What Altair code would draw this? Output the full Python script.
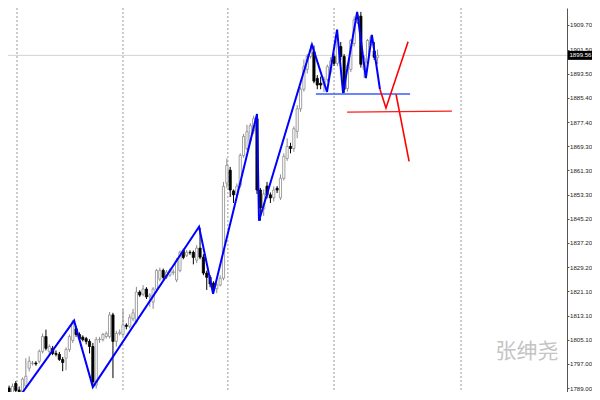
import altair as alt
import pandas as pd

# ---- candle data (H1 bars) ----
opens = [1797.9, 1787.5, 1789.0, 1787.5, 1790.5, 1788.3, 1787.4, 1789.7, 1795.6, 1797.2,
         1797.3, 1797.9, 1801.2, 1806.1, 1801.2, 1802.2, 1800.5, 1800.2, 1798.5, 1798.9,
         1801.8, 1804.8, 1808.7, 1806.8, 1805.9, 1805.4, 1804.5, 1802.8, 1790.0, 1805.1,
         1805.1, 1806.1, 1806.1, 1813.3, 1804.5, 1807.1, 1806.8, 1809.9, 1809.5, 1812.0,
         1811.0, 1820.9, 1820.2, 1821.9, 1819.3, 1817.6, 1821.9, 1825.2, 1828.1, 1825.8,
         1826.5, 1827.4, 1824.9, 1828.1, 1834.7, 1833.1, 1834.1, 1834.1, 1831.5, 1835.5,
         1832.5, 1827.2, 1825.8, 1823.9, 1822.0, 1823.2, 1825.5, 1857.1, 1861.4, 1854.5,
         1853.2, 1856.4, 1866.3, 1868.6, 1871.2, 1874.5, 1878.5, 1854.8, 1848.5, 1856.1,
         1853.2, 1852.2, 1855.4, 1852.2, 1858.7, 1865.3, 1869.3, 1868.6, 1874.3, 1881.8,
         1888.3, 1894.9, 1899.2, 1900.8, 1891.9, 1890.3, 1889.7, 1891.6, 1894.0, 1899.2,
         1896.9, 1902.5, 1899.2, 1888.5, 1894.9, 1903.5, 1910.5, 1912.6, 1894.9, 1897.0,
         1903.2, 1901.0, 1898.9]
highs = [1798.5, 1790.0, 1789.8, 1790.5, 1791.3, 1789.5, 1792.5, 1798.9, 1799.5, 1798.0,
         1797.9, 1801.8, 1807.1, 1808.4, 1803.5, 1803.0, 1801.5, 1801.0, 1799.3, 1802.5,
         1806.8, 1811.6, 1809.4, 1807.5, 1806.5, 1806.0, 1805.2, 1804.0, 1806.0, 1806.0,
         1807.3, 1807.8, 1814.3, 1814.0, 1808.0, 1808.5, 1815.3, 1810.5, 1813.5, 1815.3,
         1822.6, 1821.5, 1823.2, 1822.5, 1820.5, 1822.5, 1828.5, 1829.0, 1828.7, 1828.2,
         1828.8, 1828.5, 1832.2, 1834.7, 1835.3, 1834.8, 1834.8, 1834.7, 1836.5, 1842.3,
         1833.5, 1828.0, 1826.5, 1824.5, 1824.0, 1826.5, 1857.5, 1865.3, 1862.5, 1855.0,
         1857.0, 1867.0, 1873.5, 1876.5, 1877.0, 1879.5, 1880.1, 1855.5, 1855.0, 1857.5,
         1854.0, 1856.0, 1856.1, 1860.0, 1867.0, 1872.0, 1870.5, 1876.0, 1883.0, 1889.0,
         1898.2, 1900.0, 1903.1, 1902.8, 1893.0, 1892.5, 1892.5, 1896.5, 1899.0, 1900.0,
         1908.1, 1904.0, 1900.0, 1897.0, 1905.0, 1912.5, 1914.0, 1914.0, 1899.5, 1905.0,
         1906.4, 1904.0, 1901.5]
lows = [1786.4, 1786.4, 1786.6, 1787.0, 1787.5, 1786.8, 1787.0, 1789.2, 1794.5, 1796.5,
        1796.4, 1797.2, 1800.5, 1801.5, 1799.8, 1799.9, 1799.5, 1798.0, 1794.6, 1794.9,
        1801.0, 1804.0, 1806.0, 1804.8, 1804.5, 1803.5, 1800.5, 1789.3, 1788.8, 1804.0,
        1804.5, 1805.5, 1805.5, 1792.3, 1802.8, 1806.5, 1806.2, 1808.5, 1808.8, 1811.2,
        1810.4, 1819.3, 1819.5, 1818.6, 1816.0, 1815.3, 1821.2, 1824.5, 1825.0, 1825.2,
        1826.0, 1826.5, 1824.2, 1827.5, 1831.8, 1832.5, 1833.3, 1830.1, 1830.5, 1831.8,
        1826.5, 1821.6, 1822.5, 1820.3, 1820.5, 1822.8, 1824.8, 1855.5, 1852.5, 1850.5,
        1852.5, 1855.5, 1865.5, 1868.0, 1870.5, 1873.5, 1853.5, 1844.6, 1846.2, 1852.0,
        1850.5, 1851.0, 1853.8, 1851.5, 1858.0, 1864.5, 1867.0, 1867.5, 1872.0, 1880.8,
        1887.5, 1893.5, 1898.5, 1890.3, 1888.3, 1888.3, 1887.4, 1890.8, 1893.3, 1896.0,
        1896.0, 1898.0, 1887.0, 1887.5, 1894.0, 1902.5, 1910.0, 1895.5, 1892.0, 1896.5,
        1902.5, 1898.0, 1896.6]
closes = [1786.8, 1789.0, 1787.4, 1789.5, 1788.2, 1787.8, 1792.0, 1792.9, 1797.9, 1797.3,
          1797.0, 1801.2, 1806.1, 1802.2, 1802.8, 1800.5, 1800.2, 1798.5, 1797.5, 1801.8,
          1806.1, 1811.0, 1806.8, 1805.4, 1805.1, 1804.5, 1802.8, 1791.0, 1805.1, 1805.2,
          1806.8, 1807.1, 1813.3, 1804.5, 1807.1, 1807.5, 1810.0, 1809.5, 1812.5, 1814.0,
          1820.9, 1819.9, 1821.9, 1819.3, 1819.9, 1821.9, 1828.1, 1828.1, 1825.8, 1827.5,
          1828.1, 1827.6, 1831.4, 1834.1, 1832.4, 1834.1, 1834.0, 1832.4, 1835.5, 1832.5,
          1827.2, 1825.8, 1823.6, 1821.5, 1823.2, 1825.5, 1856.0, 1863.0, 1854.8, 1853.2,
          1856.1, 1866.3, 1872.6, 1874.2, 1876.2, 1878.5, 1854.8, 1848.9, 1853.5, 1853.2,
          1852.2, 1854.8, 1854.8, 1858.7, 1866.0, 1869.3, 1868.6, 1875.2, 1881.8, 1888.3,
          1895.8, 1899.2, 1901.5, 1891.0, 1889.7, 1889.7, 1891.6, 1895.8, 1897.6, 1896.9,
          1904.8, 1899.2, 1888.3, 1896.2, 1904.5, 1911.4, 1913.0, 1896.6, 1898.5, 1904.5,
          1905.5, 1898.9, 1899.56]

# ---- drawn objects (bar-index units, price units) ----
grid_x = [4.36, 36.0, 67.3, 99.0, 136.9]
zig_x = [4.06, 21.4, 27.0, 58.7, 62.9, 76.0, 76.6, 92.4, 96.9, 99.9, 101.7, 105.9, 108.5, 110.3, 112.7]
zig_y = [1784.5, 1811.4, 1789.3, 1842.6, 1820.3, 1880.1, 1844.6, 1903.1, 1887.4, 1908.1,
         1887.0, 1914.0, 1892.0, 1906.4, 1888.3]
red_v_x = [112.7, 114.5, 121.1]
red_v_y = [1888.3, 1882.1, 1904.1]
red_d_x = [117.5, 121.4]
red_d_y = [1886.7, 1864.3]
blue_h_x = [93.6, 121.7]
blue_h_y = [1886.7, 1886.7]
red_h_x = [102.9, 134.2]
red_h_y = [1880.7, 1881.0]
y_ticks = [1917.80, 1909.70, 1901.50, 1893.50, 1885.40, 1877.40, 1869.30, 1861.30, 1853.30,
           1845.20, 1837.20, 1829.20, 1821.10, 1813.10, 1805.10, 1797.00, 1789.00]
last_price = 1899.56
watermark = "张绅尧"

x_domain = [1.672, 168.54]
y_domain = [1787.68, 1915.3]

candles = pd.DataFrame({
    "i": list(range(len(opens))),
    "o": opens, "h": highs, "l": lows, "c": closes,
})
candles["dir"] = ["up" if c >= o else "down" for o, c in zip(opens, closes)]

LABEL_FONT = "Liberation Sans"

xs = alt.Scale(domain=x_domain, nice=False, zero=False, padding=0)
ys = alt.Scale(domain=y_domain, nice=False, zero=False, padding=0)
y_axis = alt.Axis(
    values=y_ticks, format=".2f", orient="right", grid=False,
    domainColor="#555555", domainWidth=1, tickColor="#555555", tickSize=2,
    labelFont=LABEL_FONT, labelFontSize=6.1, labelColor="#222222",
    labelPadding=0.5, title=None, labelFlush=False, labelOverlap=False)
X = lambda f: alt.X(f, type="quantitative", scale=xs, axis=None)
Y = lambda f: alt.Y(f, type="quantitative", scale=ys, axis=y_axis)

grid = alt.Chart(pd.DataFrame({"x": grid_x})).mark_rule(
    color="#9a9a9a", strokeWidth=1, strokeDash=[2, 2], clip=True
).encode(x=X("x"))

price_line = alt.Chart(pd.DataFrame({"p": [last_price]})).mark_rule(
    color="#d2d2d2", strokeWidth=1
).encode(y=Y("p"))

dir_scale_fill = alt.Scale(domain=["up", "down"], range=["#ffffff", "#000000"])
dir_scale_line = alt.Scale(domain=["up", "down"], range=["#8a8a8a", "#000000"])

wicks = alt.Chart(candles).mark_rule(strokeWidth=1, clip=True).encode(
    x=X("i"), y=Y("l"), y2="h",
    color=alt.Color("dir:N", scale=dir_scale_line, legend=None))

bodies = alt.Chart(candles).mark_bar(width=2.2, strokeWidth=0.8, clip=True).encode(
    x=X("i"), y=Y("o"), y2="c",
    fill=alt.Fill("dir:N", scale=dir_scale_fill, legend=None),
    stroke=alt.Stroke("dir:N", scale=dir_scale_line, legend=None))

def path(xv, yv, color, width):
    df = pd.DataFrame({"x": xv, "y": yv, "k": list(range(len(xv)))})
    return alt.Chart(df).mark_line(color=color, strokeWidth=width, clip=True).encode(
        x=X("x"), y=Y("y"), order="k:Q")

zig = path(zig_x, zig_y, "#0000ff", 2)
blue_h = path(blue_h_x, blue_h_y, "#3a5cff", 1.6)
red_v = path(red_v_x, red_v_y, "#ff0000", 1.6)
red_d = path(red_d_x, red_d_y, "#ff0000", 1.6)
red_h = path(red_h_x, red_h_y, "#ff1a1a", 1.3)

tag_df = pd.DataFrame({"p": [last_price], "t": [f"{last_price:.2f}"]})
tag_box = alt.Chart(tag_df).mark_rect(color="#000000", height=9).encode(
    x=alt.value(560), x2=alt.value(584), y=Y("p"))
tag_txt = alt.Chart(tag_df).mark_text(
    color="#ffffff", font=LABEL_FONT, fontSize=6.1, align="center", baseline="middle"
).encode(x=alt.value(572.5), y=Y("p"), text="t:N")

wm = alt.Chart(pd.DataFrame({"t": [watermark]})).mark_text(
    color="#c4c4c4", font="Noto Sans CJK SC", fontSize=21, align="center", baseline="middle"
).encode(x=alt.value(519), y=alt.value(344), text="t:N")

chart = alt.layer(
    grid, price_line, wicks, bodies, zig, blue_h, red_v, red_d, red_h, tag_box, tag_txt, wm
).properties(
    width=559, height=384,
    padding={"left": 0, "top": 0, "right": 25, "bottom": 0},
    autosize=alt.AutoSizeParams(type="none"),
    background="#ffffff",
).configure_view(stroke=None)

chart.save("out.html", embed_options={"renderer": "svg", "actions": False})
